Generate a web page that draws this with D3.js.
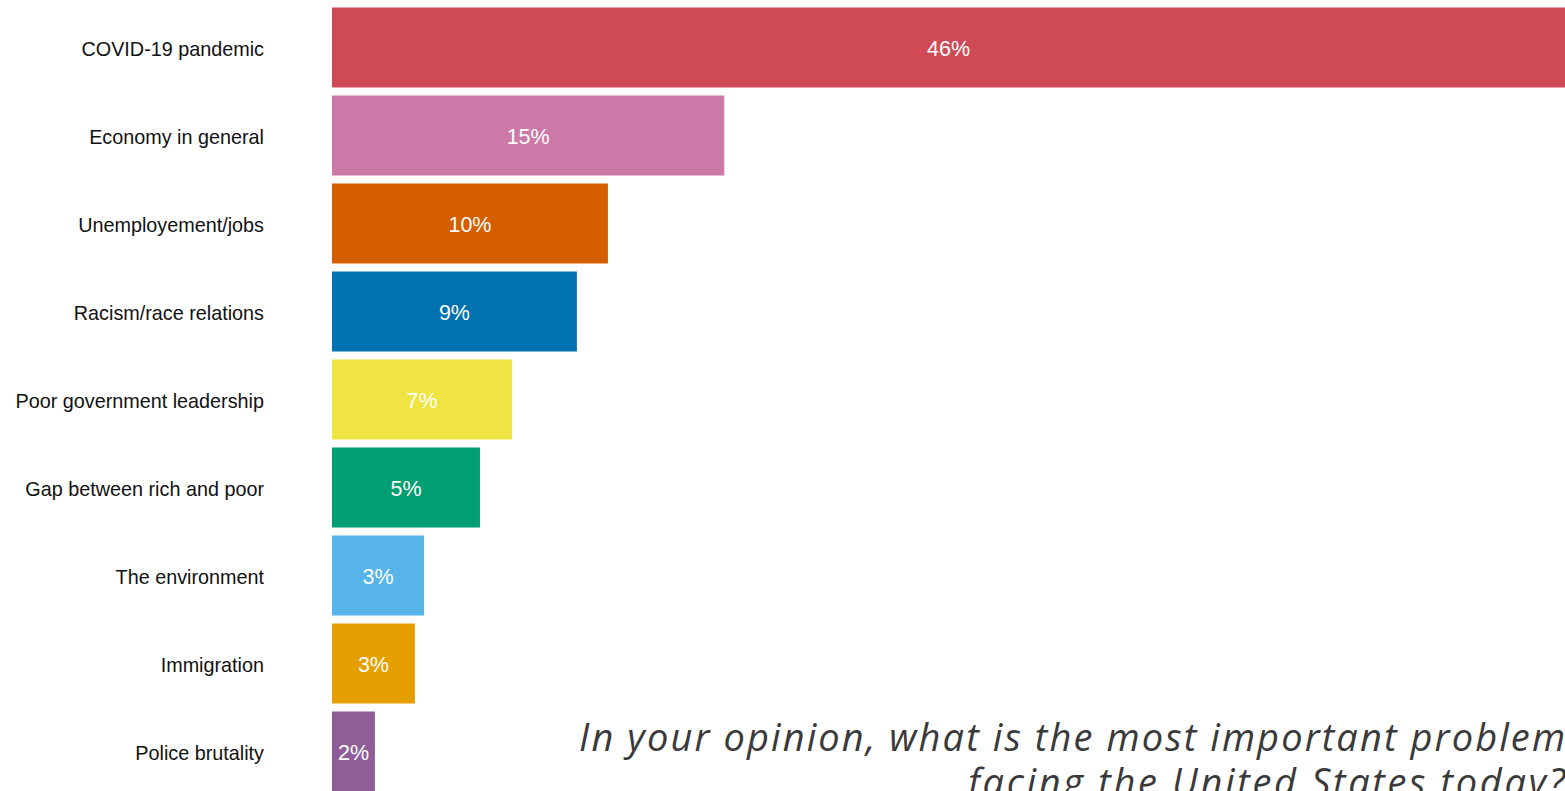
<!DOCTYPE html>
<html>
<head>
<meta charset="utf-8">
<script src="https://cdn.jsdelivr.net/npm/d3@7"></script>
<style>
  html, body { margin: 0; padding: 0; background: #fff; overflow: hidden; }
  svg { display: block; }
</style>
</head>
<body>
<svg id="chart" width="1565" height="791"></svg>
<script>
const categories = [
  "COVID-19 pandemic",
  "Economy in general",
  "Unemployement/jobs",
  "Racism/race relations",
  "Poor government leadership",
  "Gap between rich and poor",
  "The environment",
  "Immigration",
  "Police brutality"
];
const values = [45.67, 14.53, 10.22, 9.07, 6.67, 5.48, 3.41, 3.07, 1.59];
const colors = ["#CF4A54", "#CC79A7", "#D55E00", "#0072B2", "#F0E442", "#009E73", "#56B4E9", "#E69F00", "#8F5E99"];
const titleLines = ["In your opinion, what is the most important problem", "facing the United States today?"];

const svg = d3.select("#chart");

const x = d3.scaleLinear().domain([0, 50]).range([332, 1682]);
const y = d3.scaleBand()
  .domain(categories)
  .range([3.5, 795.5])
  .paddingInner(8 / 88)
  .paddingOuter(4 / 88);

const data = categories.map((c, i) => ({ cat: c, v: values[i], color: colors[i] }));

svg.append("g").selectAll("rect")
  .data(data).join("rect")
  .attr("x", x(0))
  .attr("y", d => y(d.cat))
  .attr("width", d => x(d.v) - x(0))
  .attr("height", y.bandwidth())
  .attr("fill", d => d.color);

svg.append("g").selectAll("text")
  .data(data).join("text")
  .attr("x", d => (x(0) + x(d.v)) / 2)
  .attr("y", d => y(d.cat) + y.bandwidth() / 2 + 1)
  .attr("dy", "0.36em")
  .attr("text-anchor", "middle")
  .attr("fill", "#fff")
  .style("font-family", "'Liberation Sans', Arial, sans-serif")
  .style("font-size", "21.5px")
  .text(d => Math.round(d.v) + "%");

svg.append("g").selectAll("text")
  .data(data).join("text")
  .attr("x", 264)
  .attr("y", d => y(d.cat) + y.bandwidth() / 2 + 1)
  .attr("dy", "0.36em")
  .attr("text-anchor", "end")
  .attr("fill", "#111")
  .style("font-family", "'Liberation Sans', Arial, sans-serif")
  .style("font-size", "19.8px")
  .text(d => d.cat);

const titleWidths = [986, 597];
svg.append("g").selectAll("text")
  .data(titleLines).join("text")
  .attr("x", 1565)
  .attr("y", (d, i) => 751 + i * 45)
  .attr("text-anchor", "end")
  .attr("fill", "#3a3a3a")
  .style("font-family", "'Open Sans', 'Noto Sans', sans-serif")
  .style("font-style", "italic")
  .style("font-weight", 400)
  .style("font-size", "38px")
  .attr("textLength", (d, i) => titleWidths[i])
  .attr("lengthAdjust", "spacing")
  .text(d => d);
</script>
</body>
</html>
